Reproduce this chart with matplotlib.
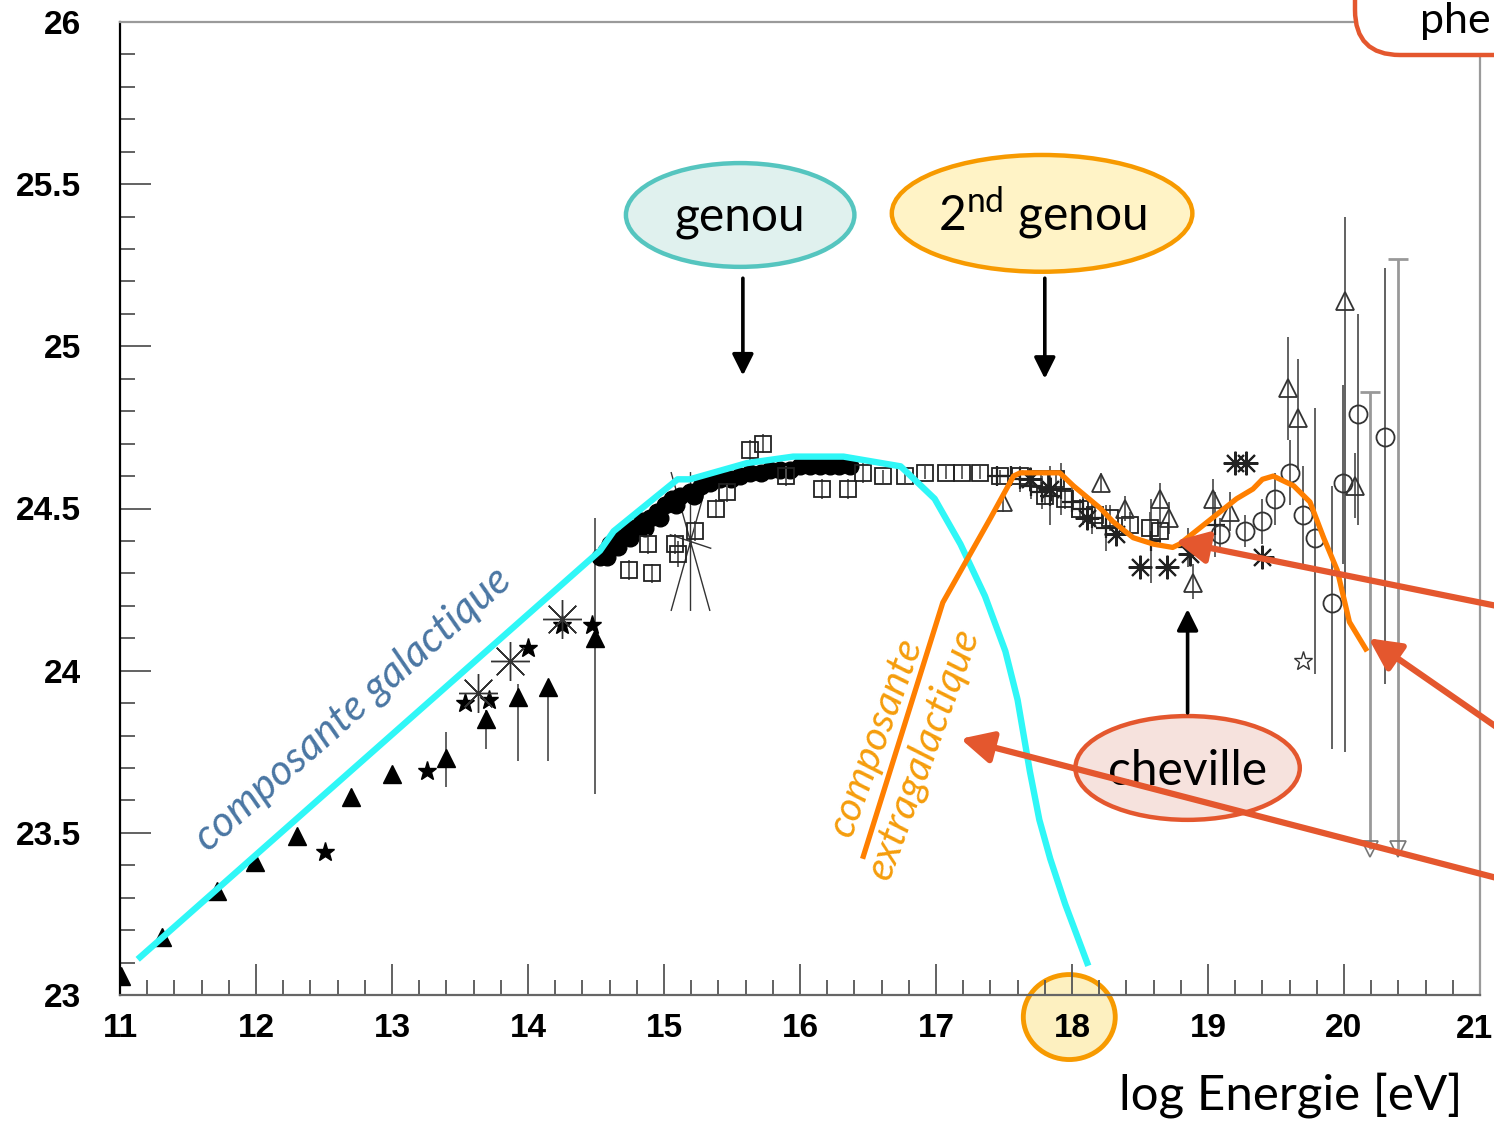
import numpy as np
import matplotlib
matplotlib.use("Agg")
from matplotlib import pyplot as plt
from matplotlib.patches import Ellipse, FancyBboxPatch
from matplotlib.path import Path
from matplotlib.ticker import MultipleLocator, FormatStrFormatter

plt.rcParams['font.family'] = ['Lato', 'DejaVu Sans']
plt.rcParams['mathtext.fontset'] = 'custom'
plt.rcParams['mathtext.rm'] = 'Lato'

# ---- data (log E, log flux*E^3) ----
# filled triangles, low energy
tri_x = [11.01, 11.31, 11.71, 11.99, 12.30, 12.70, 13.00, 13.40, 13.69, 13.93, 14.15, 14.49]
tri_y = [23.06, 23.18, 23.32, 23.41, 23.49, 23.61, 23.68, 23.73, 23.85, 23.92, 23.95, 24.10]
tri_lo = [0, 0, 0, 0, 0, 0, 0, 0.09, 0.09, 0.20, 0.23, 0.48]
tri_hi = [0, 0, 0, 0, 0, 0, 0, 0.08, 0.03, 0.04, 0.02, 0.37]

# filled stars
star_x = [12.51, 13.26, 13.54, 13.71, 14.00, 14.25, 14.47]
star_y = [23.44, 23.69, 23.90, 23.91, 24.07, 24.14, 24.14]

# big thin asterisks
ast_x = [13.63, 13.87, 14.25]
ast_y = [23.93, 24.03, 24.16]
spike_x = [15.19]
spike_y = [24.40]

# filled circles (dense band around the knee)
dot_x = [14.53, 14.57, 14.60, 14.64, 14.68, 14.74, 14.79, 14.84, 14.90, 14.95,
         15.01, 15.06, 15.12, 15.19, 15.27, 15.34, 15.41, 15.49, 15.56, 15.63,
         15.71, 15.78, 15.85, 15.93, 16.00, 16.07, 16.15, 16.22, 16.29, 16.37,
         14.58, 14.66, 14.75, 14.86, 14.97, 15.09, 15.22]
dot_y = [24.35, 24.37, 24.39, 24.40, 24.41, 24.43, 24.44, 24.46, 24.47, 24.49,
         24.51, 24.53, 24.54, 24.55, 24.57, 24.58, 24.59, 24.59, 24.60, 24.61,
         24.61, 24.62, 24.62, 24.62, 24.63, 24.63, 24.63, 24.63, 24.63, 24.63,
         24.35, 24.38, 24.41, 24.44, 24.47, 24.51, 24.54]

# open squares
sq_x = [14.74, 14.91, 14.88, 15.10, 15.08, 15.23, 15.38, 15.46, 15.63, 15.73,
        15.90, 16.16, 16.35, 16.46, 16.61, 16.77, 16.92, 17.07, 17.19, 17.32,
        17.47, 17.62, 17.77, 17.88, 17.80, 17.95, 18.06, 18.17, 18.28, 18.43,
        18.57, 18.65]
sq_y = [24.31, 24.30, 24.39, 24.36, 24.39, 24.43, 24.50, 24.55, 24.68, 24.70,
        24.60, 24.56, 24.56, 24.61, 24.60, 24.60, 24.61, 24.61, 24.61, 24.61,
        24.60, 24.60, 24.59, 24.59, 24.54, 24.53, 24.50, 24.48, 24.47, 24.45,
        24.44, 24.43]
sq_err = [0.03, 0.03, 0.03, 0.04, 0.03, 0.03, 0.03, 0.03, 0.03, 0.03,
          0.03, 0.03, 0.03, 0.03, 0.02, 0.02, 0.02, 0.02, 0.02, 0.02,
          0.02, 0.02, 0.03, 0.03, 0.03, 0.03, 0.03, 0.03, 0.04, 0.04,
          0.05, 0.05]

# small crosses with error bars
plus_x = [17.45, 17.55, 17.62, 17.70, 17.78, 17.84, 17.92, 18.00, 18.08, 18.15,
          18.25, 18.58, 18.85, 19.05]
plus_y = [24.60, 24.60, 24.59, 24.57, 24.55, 24.54, 24.56, 24.52, 24.50, 24.47,
          24.44, 24.40, 24.38, 24.45]
plus_err = [0.03, 0.03, 0.04, 0.04, 0.05, 0.09, 0.08, 0.05, 0.05, 0.05,
            0.07, 0.13, 0.06, 0.10]

# small asterisks
sast_x = [17.69, 17.84, 18.11, 18.32, 18.50, 18.70, 18.87, 19.20, 19.28, 19.40]
sast_y = [24.59, 24.56, 24.47, 24.42, 24.32, 24.32, 24.36, 24.64, 24.64, 24.35]

# open triangles
otri_x = [17.49, 18.21, 18.39, 18.65, 18.71, 18.89, 19.04, 19.16, 19.59, 19.66, 20.01, 20.08]
otri_y = [24.52, 24.58, 24.50, 24.53, 24.47, 24.27, 24.53, 24.49, 24.87, 24.78, 25.14, 24.57]
otri_lo = [0.03, 0.03, 0.04, 0.05, 0.05, 0.05, 0.06, 0.06, 0.16, 0.16, 1.39, 0.10]
otri_hi = [0.03, 0.03, 0.04, 0.05, 0.05, 0.06, 0.06, 0.06, 0.16, 0.18, 0.26, 0.10]

# open circles
oc_x = [19.09, 19.27, 19.40, 19.49, 19.60, 19.70, 19.79, 19.91, 19.99, 20.10, 20.30]
oc_y = [24.42, 24.43, 24.46, 24.53, 24.61, 24.48, 24.41, 24.21, 24.58, 24.79, 24.72]
oc_lo = [0.05, 0.05, 0.07, 0.08, 0.10, 0.15, 0.42, 0.45, 0.25, 0.34, 0.76]
oc_hi = [0.05, 0.05, 0.07, 0.08, 0.10, 0.15, 0.40, 0.36, 0.30, 0.31, 0.52]

# open star, upper limits
ostar_x = [19.70]
ostar_y = [24.03]
ul_x = [20.19, 20.40]
ul_y = [23.45, 23.45]
ul_top = [24.86, 25.27]

# model curves drawn on the slide
gal_x = [11.13, 14.53, 14.63, 15.10, 15.19, 15.61, 15.95, 16.32, 16.74, 16.99,
         17.18, 17.36, 17.51, 17.60, 17.69, 17.76, 17.84, 17.95, 18.12]
gal_y = [23.11, 24.37, 24.43, 24.59, 24.59, 24.64, 24.66, 24.66, 24.63, 24.53,
         24.39, 24.23, 24.06, 23.91, 23.69, 23.54, 23.42, 23.28, 23.09]
xgal_x = [16.46, 17.05, 17.40, 17.57, 17.62, 17.91, 18.01, 18.21, 18.30, 18.45,
          18.60, 18.74, 18.79, 18.94, 19.09, 19.21, 19.33, 19.40, 19.48, 19.63,
          19.75, 19.85, 19.95, 20.04, 20.17]
xgal_y = [23.42, 24.21, 24.47, 24.60, 24.61, 24.61, 24.57, 24.50, 24.46, 24.41,
          24.39, 24.38, 24.39, 24.44, 24.49, 24.53, 24.56, 24.59, 24.60, 24.57,
          24.52, 24.41, 24.31, 24.15, 24.06]

x_ticks = [11, 12, 13, 14, 15, 16, 17, 18, 19, 20, 21]
x_labels = ['11', '12', '13', '14', '15', '16', '17', '18', '19', '20', '']

CYAN = '#2ff7f7'
ORANGE = '#ff7f00'
ORANGE_TXT = '#f59d0c'
RED = '#e4572e'
BLUE_TXT = '#4a76a3'

fig = plt.figure(figsize=(14.94, 11.24), dpi=100)
ax = fig.add_axes([120 / 1494, 1 - 995 / 1124, 1360 / 1494, 973 / 1124])
ax.set_xlim(11, 21)
ax.set_ylim(23, 26)

# data points
ebar = dict(ecolor='#555555', elinewidth=1.3, capsize=0, linestyle='none')
ax.errorbar(tri_x, tri_y, yerr=[tri_lo, tri_hi], marker='^', ms=13, color='black', **ebar)
ax.plot(star_x, star_y, '*', ms=14, color='black', linestyle='none')
ax.plot(ast_x, ast_y, marker=(8, 2, 0), ms=28, mec='#333333', mew=1.0, linestyle='none')
spike = Path([(0, -1), (0, 1), (-0.28, -1), (0.28, 1), (0.28, -1), (-0.28, 1), (-0.3, 0.1), (0.3, -0.1)],
             [Path.MOVETO, Path.LINETO] * 4)
ax.plot(spike_x, spike_y, marker=spike, ms=100, mec='#333333', mew=1.0, linestyle='none')
ax.plot(dot_x, dot_y, 'o', ms=12, color='black', linestyle='none')
ax.errorbar(sq_x, sq_y, yerr=sq_err, marker='s', ms=12, mfc='none', mec='#222222', mew=1.3, **ebar)
ax.errorbar(plus_x, plus_y, yerr=plus_err, marker='+', ms=15, mec='#222222', mew=1.6, **ebar)
ax.plot(sast_x, sast_y, marker=(8, 2, 0), ms=17, mec='#222222', mew=1.5, linestyle='none')
ax.errorbar(otri_x, otri_y, yerr=[otri_lo, otri_hi], marker='^', ms=13, mfc='none', mec='#333333', mew=1.3, **ebar)
ax.errorbar(oc_x, oc_y, yerr=[oc_lo, oc_hi], marker='o', ms=13, mfc='none', mec='#333333', mew=1.3, **ebar)
ax.plot(ostar_x, ostar_y, '*', ms=14, mfc='none', mec='#333333', mew=1.0, linestyle='none')
ax.vlines(ul_x, ul_y, ul_top, colors='#999999', lw=2)
ax.plot(ul_x, ul_top, '_', ms=14, mew=2, color='#999999', linestyle='none')
ax.plot(ul_x, ul_y, 'v', ms=11, mfc='none', mec='#777777', mew=1.2, linestyle='none')

# galactic / extragalactic components
ax.plot(gal_x, gal_y, color=CYAN, lw=4.6, solid_capstyle='butt', zorder=5)
ax.plot(xgal_x, xgal_y, color=ORANGE, lw=3.8, solid_capstyle='butt', zorder=5)

ax.text(12.71, 23.88, 'composante galactique', rotation=41.4, rotation_mode='anchor',
        ha='center', va='center', fontsize=30.5, style='italic', color=BLUE_TXT, zorder=6)
ax.text(16.735, 23.77, 'composante\nextragalactique', rotation=70, rotation_mode='anchor',
        ha='center', va='center', multialignment='center', fontsize=29.5, style='italic',
        color=ORANGE_TXT, linespacing=1.45, zorder=6)

# labelled ellipses
def bubble(cx, cy, w, h, fc, ec, label, ty):
    ax.add_patch(Ellipse((cx, cy), w, h, fc=fc, ec=ec, lw=3.2, clip_on=False, zorder=7))
    ax.text(cx, ty, label, ha='center', va='baseline', fontsize=34.5, color='black', zorder=8)

bubble(15.56, 25.405, 1.68, 0.32, '#e0f1ee', '#55c5bf', 'genou', 25.356)
bubble(17.78, 25.41, 2.21, 0.36, '#fff3c6', '#f79a00', r'2$^{\mathrm{nd}}$ genou', 25.356)
bubble(18.85, 23.70, 1.65, 0.32, '#f6e2dd', RED, 'cheville', 23.648)

black_arrow = dict(arrowstyle='-|>', color='black', lw=2.6, mutation_scale=32, shrinkA=0, shrinkB=0)
ax.annotate('', xy=(15.58, 24.91), xytext=(15.58, 25.21), arrowprops=black_arrow, zorder=8)
ax.annotate('', xy=(17.80, 24.90), xytext=(17.80, 25.21), arrowprops=black_arrow, zorder=8)
ax.annotate('', xy=(18.85, 24.19), xytext=(18.85, 23.87), arrowprops=black_arrow, zorder=8)

red_arrow = dict(arrowstyle='-|>', color=RED, lw=4.5, mutation_scale=48, shrinkA=0, shrinkB=0)
ax.annotate('', xy=(18.76, 24.40), xytext=(21.59, 24.16), arrowprops=red_arrow,
            annotation_clip=False, zorder=9)
ax.annotate('', xy=(20.18, 24.10), xytext=(21.59, 23.69), arrowprops=red_arrow,
            annotation_clip=False, zorder=9)
ax.annotate('', xy=(17.18, 23.79), xytext=(21.59, 23.31), arrowprops=red_arrow,
            annotation_clip=False, zorder=9)

# orange ring around the 18 tick label
ax.add_patch(Ellipse((17.98, 22.932), 0.676, 0.262, fc='#fdf0c0', ec='#f79a00', lw=3.5,
                     clip_on=False, zorder=1))

# axes styling
ax.set_xticks(x_ticks)
ax.set_xticklabels(x_labels)
ax.xaxis.set_minor_locator(MultipleLocator(0.2))
ax.yaxis.set_major_locator(MultipleLocator(0.5))
ax.yaxis.set_minor_locator(MultipleLocator(0.1))
ax.yaxis.set_major_formatter(FormatStrFormatter('%g'))
ax.tick_params(which='both', direction='in', top=False, right=False, color='#555555', width=1.3)
ax.tick_params(which='major', length=22)
ax.tick_params(which='minor', length=11)
ax.tick_params(axis='y', which='major', pad=28)
ax.tick_params(axis='x', which='major', pad=13)
tick_font = dict(fontfamily='Liberation Sans', fontweight='bold', fontsize=24)
for lab in ax.get_xticklabels() + ax.get_yticklabels():
    lab.set(**tick_font)
# last label squeezed against the right edge of the slide
ax.text(20.96, 22.94, '21', ha='center', va='top', color='black', clip_on=False, **tick_font)
ax.spines['left'].set_color('black')
ax.spines['bottom'].set_color('#666666')
ax.spines['top'].set_color('#9a9a9a')
ax.spines['right'].set_color('#9a9a9a')
for s in ax.spines.values():
    s.set_linewidth(1.6)

fig.text(1462 / 1494, (1124 - 1110) / 1124, 'log Energie [eV]', ha='right', va='baseline',
         fontsize=35.5, color='black')

# box cut by the right edge of the slide
box = FancyBboxPatch((13.55, 10.69), 3.0, 2.0, boxstyle='round,pad=0,rounding_size=0.45',
                     transform=fig.dpi_scale_trans, fc='white', ec=RED, lw=3.2, zorder=10)
fig.add_artist(box)
fig.text(1491 / 1494, (1124 - 33) / 1124, 'phe', ha='right', va='baseline',
         fontsize=31, color='black', zorder=11)

fig.savefig('out.png', dpi=100)
